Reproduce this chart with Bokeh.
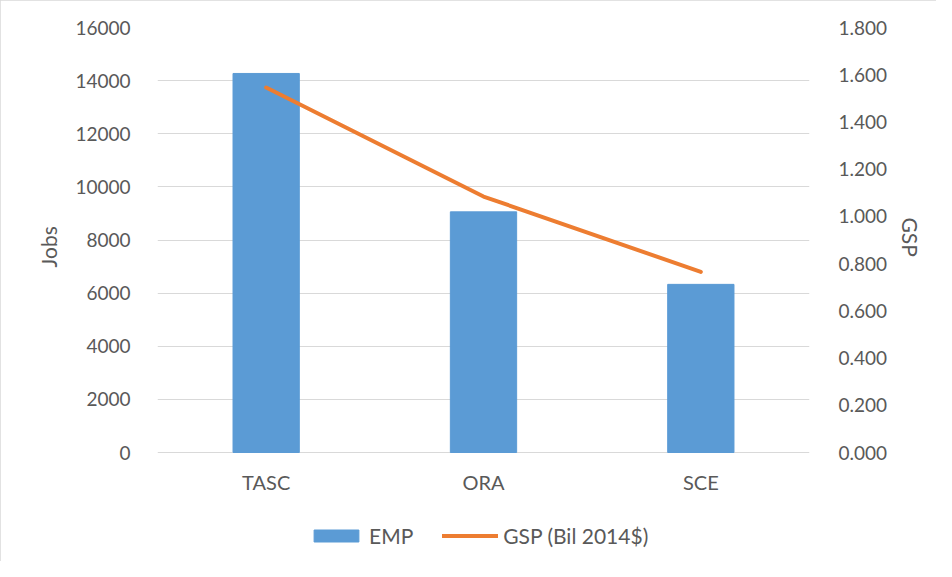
from bokeh.plotting import figure
from bokeh.models import (Range1d, LinearAxis, FactorRange, Legend, LegendItem, Title,
                          FixedTicker, NumeralTickFormatter, ColumnDataSource)
from bokeh.core.properties import value
from bokeh.embed import file_html
from bokeh.resources import INLINE

categories = ["TASC", "ORA", "SCE"]
emp = [14270, 9060, 6330]
gsp = [1.546, 1.084, 0.765]
jobs_ticks = [0, 2000, 4000, 6000, 8000, 10000, 12000, 14000, 16000]
gsp_ticks = [0.0, 0.2, 0.4, 0.6, 0.8, 1.0, 1.2, 1.4, 1.6, 1.8]
series_labels = ["EMP", "GSP (Bil 2014$)"]
left_title, right_title = "Jobs", "GSP"

FONT = "Lato"
TXT = "#595959"
GRID = "#d9d9d9"

# layout (pixels)
W, H = 936, 561
TOP, BOTTOM, LEFT, RIGHT = 27, 4, 157, 127
ZERO_FROM_TOP = 452          # y pixel (figure coords) of value 0
PLOT_PX = ZERO_FROM_TOP - TOP
BELOW_PX = H - BOTTOM - ZERO_FROM_TOP
JOBS_MAX, GSP_MAX = 16000, 1.8
LABEL_PX = 29               # category labels below zero line

jobs_min = -JOBS_MAX * BELOW_PX / PLOT_PX
gsp_min = -GSP_MAX * BELOW_PX / PLOT_PX
label_y = -JOBS_MAX * LABEL_PX / PLOT_PX

src = ColumnDataSource(dict(cat=categories, emp=emp, gsp=gsp))
lab = ColumnDataSource(dict(cat=categories, y=[label_y] * len(categories), t=categories))

p = figure(width=W, height=H, output_backend="svg", toolbar_location=None,
           x_range=FactorRange(*categories, range_padding=0),
           y_range=Range1d(jobs_min, JOBS_MAX),
           min_border_left=LEFT, min_border_right=RIGHT, min_border_top=TOP,
           min_border_bottom=BOTTOM)
p.extra_y_ranges = {"gsp": Range1d(gsp_min, GSP_MAX)}
p.outline_line_color = None
p.styles = {"outline": "1px solid #d9d9d9", "outline-offset": "-1px"}

bars = p.vbar(x="cat", top="emp", bottom=0, width=0.305, source=src, color="#5b9bd5")
line = p.line(x="cat", y="gsp", source=src, y_range_name="gsp", line_color="#ed7d31",
              line_width=4, line_join="round", line_cap="round")

p.text(x="cat", y="y", text="t", source=lab, text_font=value(FONT),
       text_font_size="20px", text_color=TXT, text_align="center", text_baseline="middle")

p.xaxis.visible = False
p.xgrid.grid_line_color = None
jt = FixedTicker(ticks=jobs_ticks)
p.ygrid.ticker = jt
p.ygrid.grid_line_color = GRID

la = p.yaxis[0]
la.ticker = jt
ra = LinearAxis(y_range_name="gsp", ticker=FixedTicker(ticks=gsp_ticks),
                formatter=NumeralTickFormatter(format="0.000"))
p.add_layout(ra, "right")

for ax in [la, ra]:
    ax.axis_line_color = None
    ax.major_tick_line_color = None
    ax.minor_tick_line_color = None
    ax.major_label_text_font = FONT
    ax.major_label_text_font_size = "19px"
    ax.major_label_text_color = TXT

la.major_label_standoff = 21
ra.major_label_standoff = 23

# side titles, placed along the value area (offset from panel end)
tl = Title(text=left_title, align="left", offset=290, standoff=24,
           text_font=FONT, text_font_size="21px", text_color=TXT, text_font_style="normal")
p.add_layout(tl, "left")
tr = Title(text=right_title, align="left", offset=190, standoff=14,
           text_font=FONT, text_font_size="21px", text_color=TXT, text_font_style="normal")
p.add_layout(tr, "right")

legend = Legend(items=[LegendItem(label=series_labels[0], renderers=[bars]),
                       LegendItem(label=series_labels[1], renderers=[line])],
                orientation="horizontal", location=(151, 9),
                label_text_font=FONT, label_text_font_size="21px", label_text_color=TXT,
                glyph_width=56, glyph_height=15, label_standoff=5, spacing=29,
                border_line_color=None, background_fill_alpha=0, margin=0, padding=0)
p.add_layout(legend)

open("out.html", "w").write(file_html(p, INLINE))
